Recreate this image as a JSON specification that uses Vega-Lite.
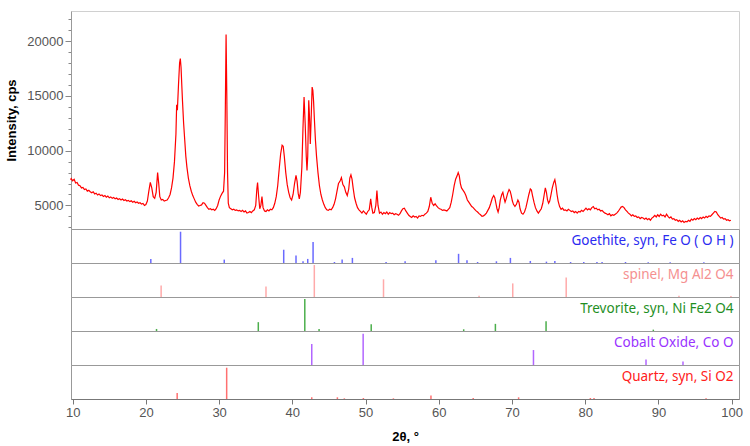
{
"$schema": "https://vega.github.io/schema/vega-lite/v6.json",
"padding": {"left": 5, "top": 10, "right": 5, "bottom": 0},
"bounds": "flush",
"spacing": 0,
"config": {"font": "Liberation Sans", "axis": {"grid": false}},
"datasets": {
"pattern": [
{"t":9.7,"c":7350},{"t":9.8,"c":7450},{"t":10.0,"c":7250},{"t":10.2,"c":7380},{"t":10.4,"c":7050},{"t":10.6,"c":7100},{"t":10.8,"c":6850},{"t":11.0,"c":6800},{"t":11.2,"c":6600},{"t":11.4,"c":6650},{"t":11.6,"c":6450},{"t":11.8,"c":6500},{"t":12.0,"c":6300},{"t":12.2,"c":6380},{"t":12.4,"c":6250},{"t":12.6,"c":6150},{"t":12.8,"c":6250},{"t":13.0,"c":6050},{"t":13.2,"c":6120},{"t":13.4,"c":5950},{"t":13.6,"c":6050},{"t":13.8,"c":5900},{"t":14.0,"c":5950},{"t":14.2,"c":5820},{"t":14.4,"c":5900},{"t":14.6,"c":5750},{"t":14.8,"c":5850},{"t":15.0,"c":5700},{"t":15.2,"c":5780},{"t":15.4,"c":5650},{"t":15.6,"c":5720},{"t":15.8,"c":5600},{"t":16.0,"c":5680},{"t":16.2,"c":5550},{"t":16.4,"c":5620},{"t":16.6,"c":5500},{"t":16.8,"c":5580},{"t":17.0,"c":5450},{"t":17.2,"c":5520},{"t":17.4,"c":5400},{"t":17.6,"c":5460},{"t":17.8,"c":5350},{"t":18.0,"c":5420},{"t":18.2,"c":5300},{"t":18.4,"c":5380},{"t":18.6,"c":5250},{"t":18.8,"c":5320},{"t":19.0,"c":5200},{"t":19.2,"c":5250},{"t":19.4,"c":5120},{"t":19.6,"c":5180},{"t":19.8,"c":5000},{"t":20.0,"c":5080},
{"t":20.2,"c":5400},{"t":20.4,"c":6300},{"t":20.6,"c":7100},{"t":20.8,"c":6600},{"t":21.0,"c":5800},{"t":21.2,"c":5650},{"t":21.4,"c":6200},{"t":21.6,"c":8000},{"t":21.75,"c":7000},{"t":21.9,"c":5800},{"t":22.1,"c":5500},{"t":22.3,"c":5550},{"t":22.5,"c":5400},{"t":22.7,"c":5450},{"t":22.9,"c":5500},{"t":23.1,"c":5700},{"t":23.3,"c":6000},{"t":23.5,"c":6600},{"t":23.7,"c":7500},{"t":23.9,"c":9000},{"t":24.1,"c":11500},{"t":24.2,"c":14200},{"t":24.3,"c":13700},{"t":24.45,"c":16000},{"t":24.6,"c":18000},{"t":24.7,"c":18400},{"t":24.8,"c":17600},{"t":24.9,"c":16000},{"t":25.0,"c":14500},{"t":25.15,"c":12500},{"t":25.3,"c":11000},{"t":25.45,"c":9500},{"t":25.6,"c":8500},{"t":25.8,"c":7500},{"t":26.0,"c":6800},{"t":26.2,"c":6300},{"t":26.4,"c":5900},{"t":26.6,"c":5600},{"t":26.8,"c":5300},{"t":27.0,"c":5100},{"t":27.2,"c":4950},{"t":27.4,"c":5000},{"t":27.6,"c":5050},{"t":27.8,"c":5250},{"t":28.0,"c":5200},{"t":28.2,"c":5000},{"t":28.4,"c":4800},{"t":28.6,"c":4650},{"t":28.8,"c":4700},{"t":29.0,"c":4600},{"t":29.2,"c":4650},{"t":29.4,"c":4550},{"t":29.6,"c":4700},{"t":29.8,"c":5000},{"t":30.0,"c":5500},{"t":30.2,"c":5850},{"t":30.4,"c":6100},{"t":30.6,"c":6300},{"t":30.75,"c":8000},{"t":30.85,"c":14000},{"t":30.95,"c":20600},{"t":31.05,"c":15000},{"t":31.15,"c":8000},{"t":31.25,"c":5200},{"t":31.4,"c":4800},{"t":31.6,"c":4700},{"t":31.8,"c":4600},{"t":32.0,"c":4650},{"t":32.2,"c":4550},{"t":32.4,"c":4600},{"t":32.6,"c":4500},{"t":32.8,"c":4550},{"t":33.0,"c":4450},{"t":33.2,"c":4550},{"t":33.4,"c":4400},{"t":33.6,"c":4500},{"t":33.8,"c":4300},{"t":34.0,"c":4350},{"t":34.2,"c":4450},{"t":34.4,"c":4350},{"t":34.6,"c":4500},{"t":34.8,"c":4600},{"t":35.0,"c":5000},{"t":35.15,"c":6500},{"t":35.25,"c":7100},{"t":35.4,"c":5800},{"t":35.55,"c":4700},{"t":35.7,"c":5000},{"t":35.85,"c":5800},{"t":36.0,"c":4800},{"t":36.2,"c":4500},{"t":36.4,"c":4450},{"t":36.6,"c":4600},{"t":36.8,"c":4500},{"t":37.0,"c":4650},{"t":37.2,"c":4600},{"t":37.4,"c":4800},{"t":37.6,"c":5200},{"t":37.8,"c":5800},{"t":38.0,"c":6800},{"t":38.2,"c":8300},{"t":38.4,"c":9700},{"t":38.6,"c":10500},{"t":38.75,"c":10400},{"t":38.9,"c":9500},{"t":39.1,"c":8000},{"t":39.3,"c":6900},{"t":39.5,"c":6200},{"t":39.7,"c":5700},{"t":39.9,"c":5500},{"t":40.1,"c":6000},{"t":40.3,"c":7000},{"t":40.5,"c":7750},{"t":40.65,"c":7200},{"t":40.8,"c":6100},{"t":40.95,"c":5600},{"t":41.1,"c":6200},{"t":41.3,"c":8500},{"t":41.45,"c":12000},{"t":41.6,"c":14900},{"t":41.75,"c":12500},{"t":41.9,"c":9500},{"t":42.0,"c":8200},{"t":42.1,"c":9500},{"t":42.24,"c":14600},{"t":42.35,"c":13000},{"t":42.45,"c":10600},{"t":42.55,"c":12500},{"t":42.7,"c":15800},{"t":42.8,"c":15500},{"t":42.9,"c":14500},{"t":43.0,"c":13000},{"t":43.15,"c":11000},{"t":43.3,"c":9500},{"t":43.5,"c":8000},{"t":43.7,"c":6800},{"t":43.9,"c":6000},{"t":44.1,"c":5500},{"t":44.3,"c":5100},{"t":44.5,"c":4800},{"t":44.7,"c":4600},{"t":44.9,"c":4550},{"t":45.1,"c":4650},{"t":45.3,"c":4600},{"t":45.5,"c":4800},{"t":45.7,"c":5100},{"t":45.9,"c":5600},{"t":46.1,"c":6300},{"t":46.3,"c":7000},{"t":46.5,"c":7200},{"t":46.7,"c":7550},{"t":46.9,"c":6900},{"t":47.1,"c":6700},{"t":47.3,"c":6200},{"t":47.5,"c":5900},{"t":47.7,"c":6500},{"t":47.85,"c":7500},{"t":48.0,"c":7800},{"t":48.15,"c":7400},{"t":48.3,"c":6600},{"t":48.5,"c":5700},{"t":48.7,"c":5200},{"t":48.9,"c":4800},{"t":49.1,"c":4600},{"t":49.3,"c":4450},{"t":49.5,"c":4300},{"t":49.7,"c":4500},{"t":49.9,"c":4350},{"t":50.1,"c":4200},{"t":50.3,"c":4450},{"t":50.5,"c":4600},{"t":50.7,"c":5600},{"t":50.85,"c":4800},{"t":51.0,"c":4300},{"t":51.2,"c":4350},{"t":51.4,"c":5000},{"t":51.55,"c":6350},{"t":51.7,"c":5000},{"t":51.9,"c":4300},{"t":52.1,"c":4400},{"t":52.3,"c":4200},{"t":52.5,"c":4350},{"t":52.7,"c":4250},{"t":52.9,"c":4400},{"t":53.1,"c":4200},{"t":53.3,"c":4350},{"t":53.5,"c":4250},{"t":53.7,"c":4300},{"t":53.9,"c":4150},{"t":54.1,"c":4250},{"t":54.3,"c":4200},{"t":54.5,"c":4100},{"t":54.7,"c":4250},{"t":54.9,"c":4500},{"t":55.1,"c":4700},{"t":55.3,"c":4750},{"t":55.5,"c":4500},{"t":55.7,"c":4300},{"t":55.9,"c":4100},{"t":56.1,"c":4000},{"t":56.3,"c":3900},{"t":56.5,"c":4050},{"t":56.7,"c":3950},{"t":56.9,"c":4000},{"t":57.1,"c":3850},{"t":57.3,"c":4050},{"t":57.5,"c":4000},{"t":57.7,"c":4100},{"t":57.9,"c":4050},{"t":58.1,"c":4200},{"t":58.3,"c":4300},{"t":58.5,"c":4450},{"t":58.7,"c":4900},{"t":58.9,"c":5750},{"t":59.1,"c":5200},{"t":59.3,"c":5000},{"t":59.5,"c":5150},{"t":59.7,"c":4950},{"t":59.9,"c":4800},{"t":60.1,"c":4700},{"t":60.3,"c":4650},{"t":60.5,"c":4550},{"t":60.7,"c":4600},{"t":60.9,"c":4550},{"t":61.1,"c":4500},{"t":61.3,"c":4650},{"t":61.5,"c":4800},{"t":61.7,"c":5300},{"t":61.9,"c":6000},{"t":62.1,"c":6800},{"t":62.3,"c":7400},{"t":62.5,"c":7700},{"t":62.65,"c":8000},{"t":62.8,"c":7700},{"t":62.95,"c":7000},{"t":63.1,"c":6600},{"t":63.3,"c":6400},{"t":63.5,"c":6200},{"t":63.7,"c":5900},{"t":63.9,"c":5500},{"t":64.1,"c":5300},{"t":64.3,"c":5100},{"t":64.5,"c":4900},{"t":64.7,"c":4800},{"t":64.9,"c":4650},{"t":65.1,"c":4500},{"t":65.3,"c":4400},{"t":65.5,"c":4250},{"t":65.7,"c":4150},{"t":65.9,"c":4000},{"t":66.1,"c":4050},{"t":66.3,"c":4150},{"t":66.5,"c":4300},{"t":66.7,"c":4550},{"t":66.9,"c":4800},{"t":67.1,"c":5200},{"t":67.3,"c":5650},{"t":67.5,"c":5900},{"t":67.65,"c":5700},{"t":67.8,"c":5200},{"t":67.95,"c":4700},{"t":68.1,"c":4400},{"t":68.25,"c":4800},{"t":68.4,"c":5500},{"t":68.6,"c":6000},{"t":68.75,"c":6200},{"t":68.9,"c":5700},{"t":69.05,"c":5300},{"t":69.2,"c":5600},{"t":69.4,"c":6100},{"t":69.6,"c":6450},{"t":69.75,"c":6300},{"t":69.9,"c":5900},{"t":70.05,"c":5400},{"t":70.2,"c":5100},{"t":70.4,"c":4900},{"t":70.6,"c":5100},{"t":70.8,"c":5500},{"t":70.95,"c":5300},{"t":71.1,"c":4700},{"t":71.3,"c":4300},{"t":71.5,"c":4200},{"t":71.7,"c":4400},{"t":71.9,"c":4800},{"t":72.1,"c":5400},{"t":72.3,"c":6000},{"t":72.5,"c":6500},{"t":72.65,"c":6400},{"t":72.8,"c":5900},{"t":73.0,"c":5300},{"t":73.2,"c":4800},{"t":73.4,"c":4500},{"t":73.6,"c":4300},{"t":73.8,"c":4500},{"t":74.0,"c":4700},{"t":74.2,"c":5200},{"t":74.4,"c":6000},{"t":74.55,"c":6600},{"t":74.7,"c":6200},{"t":74.85,"c":5500},{"t":75.0,"c":5200},{"t":75.15,"c":5400},{"t":75.3,"c":5900},{"t":75.5,"c":6600},{"t":75.7,"c":7100},{"t":75.85,"c":7350},{"t":76.0,"c":6800},{"t":76.15,"c":6000},{"t":76.3,"c":5400},{"t":76.5,"c":4900},{"t":76.7,"c":4650},{"t":76.9,"c":4750},{"t":77.1,"c":4550},{"t":77.3,"c":4600},{"t":77.5,"c":4500},{"t":77.7,"c":4650},{"t":77.9,"c":4550},{"t":78.1,"c":4450},{"t":78.3,"c":4500},{"t":78.5,"c":4350},{"t":78.7,"c":4450},{"t":78.9,"c":4300},{"t":79.1,"c":4450},{"t":79.3,"c":4400},{"t":79.5,"c":4550},{"t":79.7,"c":4450},{"t":79.9,"c":4600},{"t":80.1,"c":4750},{"t":80.3,"c":4600},{"t":80.5,"c":4700},{"t":80.7,"c":4600},{"t":80.9,"c":4800},{"t":81.1,"c":4900},{"t":81.3,"c":4700},{"t":81.5,"c":4750},{"t":81.7,"c":4600},{"t":81.9,"c":4650},{"t":82.1,"c":4500},{"t":82.3,"c":4550},{"t":82.5,"c":4400},{"t":82.7,"c":4300},{"t":82.9,"c":4250},{"t":83.1,"c":4150},{"t":83.3,"c":4250},{"t":83.5,"c":4050},{"t":83.7,"c":4150},{"t":83.9,"c":4100},
{"t":84.1,"c":4200},{"t":84.3,"c":4300},{"t":84.5,"c":4450},{"t":84.7,"c":4650},{"t":84.9,"c":4850},{"t":85.1,"c":4900},{"t":85.3,"c":4800},{"t":85.5,"c":4600},{"t":85.7,"c":4450},{"t":85.9,"c":4300},{"t":86.1,"c":4200},{"t":86.3,"c":4050},{"t":86.5,"c":4150},{"t":86.7,"c":4000},{"t":86.9,"c":4050},{"t":87.1,"c":3900},{"t":87.3,"c":3950},{"t":87.5,"c":3800},{"t":87.7,"c":3900},{"t":87.9,"c":3850},{"t":88.1,"c":3750},{"t":88.3,"c":3850},{"t":88.5,"c":3700},{"t":88.7,"c":3800},{"t":88.9,"c":3650},{"t":89.1,"c":3850},{"t":89.3,"c":3950},{"t":89.5,"c":4100},{"t":89.7,"c":3950},{"t":89.9,"c":4150},{"t":90.1,"c":4000},{"t":90.3,"c":4200},{"t":90.5,"c":4050},{"t":90.7,"c":4100},{"t":90.9,"c":3950},{"t":91.1,"c":4200},{"t":91.3,"c":4000},{"t":91.5,"c":3850},{"t":91.7,"c":3950},{"t":91.9,"c":3750},{"t":92.1,"c":3800},{"t":92.3,"c":3650},{"t":92.5,"c":3700},{"t":92.7,"c":3550},{"t":92.9,"c":3650},{"t":93.1,"c":3500},{"t":93.3,"c":3600},{"t":93.5,"c":3450},{"t":93.7,"c":3550},{"t":93.9,"c":3500},{"t":94.1,"c":3650},{"t":94.3,"c":3550},{"t":94.5,"c":3750},{"t":94.7,"c":3650},{"t":94.9,"c":3800},{"t":95.1,"c":3700},{"t":95.3,"c":3850},{"t":95.5,"c":3750},{"t":95.7,"c":3900},{"t":95.9,"c":3800},{"t":96.1,"c":3950},{"t":96.3,"c":3850},{"t":96.5,"c":4000},{"t":96.7,"c":3900},{"t":96.9,"c":4050},{"t":97.1,"c":4000},{"t":97.3,"c":4150},{"t":97.5,"c":4300},{"t":97.7,"c":4450},{"t":97.9,"c":4400},{"t":98.1,"c":4150},{"t":98.3,"c":4000},{"t":98.5,"c":3850},{"t":98.7,"c":3900},{"t":98.9,"c":3750},{"t":99.1,"c":3800},{"t":99.3,"c":3650},{"t":99.5,"c":3700},{"t":99.7,"c":3600},{"t":99.9,"c":3650}
],
"sticks": [
{"p":"G","t":20.67,"h":12},{"p":"G","t":24.73,"h":92},{"p":"G","t":30.7,"h":10},{"p":"G","t":38.82,"h":39},{"p":"G","t":40.5,"h":22},{"p":"G","t":41.46,"h":5},{"p":"G","t":42.1,"h":12},{"p":"G","t":42.83,"h":62},{"p":"G","t":45.75,"h":3},{"p":"G","t":46.8,"h":10},{"p":"G","t":48.2,"h":15},{"p":"G","t":52.8,"h":3},{"p":"G","t":55.4,"h":5},{"p":"G","t":59.6,"h":8},{"p":"G","t":62.7,"h":27},{"p":"G","t":63.85,"h":8},{"p":"G","t":65.3,"h":3},{"p":"G","t":67.87,"h":5},{"p":"G","t":69.78,"h":15},{"p":"G","t":72.5,"h":6},{"p":"G","t":74.7,"h":4},{"p":"G","t":75.85,"h":6},{"p":"G","t":78.0,"h":3},{"p":"G","t":79.8,"h":3},{"p":"G","t":81.6,"h":3},{"p":"G","t":82.3,"h":3},{"p":"G","t":85.5,"h":3},{"p":"G","t":88.6,"h":2},{"p":"G","t":91.6,"h":2},{"p":"G","t":96.2,"h":2},
{"p":"S","t":22.08,"h":34},{"p":"S","t":36.4,"h":31},{"p":"S","t":43.0,"h":94},{"p":"S","t":52.45,"h":52},{"p":"S","t":65.5,"h":4},{"p":"S","t":70.1,"h":40},{"p":"S","t":77.4,"h":57},{"p":"S","t":92.8,"h":4},{"p":"S","t":99.9,"h":3},
{"p":"T","t":21.45,"h":6},{"p":"T","t":35.35,"h":26},{"p":"T","t":41.7,"h":94},{"p":"T","t":43.65,"h":6},{"p":"T","t":50.77,"h":20},{"p":"T","t":63.4,"h":5},{"p":"T","t":67.73,"h":21},{"p":"T","t":74.65,"h":29},{"p":"T","t":89.3,"h":4},
{"p":"C","t":42.65,"h":62},{"p":"C","t":49.67,"h":92},{"p":"C","t":72.93,"h":44},{"p":"C","t":88.3,"h":16},{"p":"C","t":93.35,"h":10},
{"p":"Q","t":24.27,"h":18},{"p":"Q","t":31.03,"h":92},{"p":"Q","t":42.65,"h":5},{"p":"Q","t":46.15,"h":5},{"p":"Q","t":47.1,"h":2},{"p":"Q","t":49.7,"h":3},{"p":"Q","t":53.8,"h":2},{"p":"Q","t":58.93,"h":10},{"p":"Q","t":64.7,"h":3},{"p":"Q","t":70.9,"h":5},{"p":"Q","t":80.7,"h":3},{"p":"Q","t":81.2,"h":3},{"p":"Q","t":96.5,"h":2}
]
},
"vconcat": [
{
"width": 668, "height": 218,
"view": {"stroke": "#d0d0d0"},
"data": {"name": "pattern"},
"mark": {"type": "line", "color": "#ff0000", "strokeWidth": 1.2},
"encoding": {
"x": {"field": "t", "type": "quantitative", "scale": {"domain": [9.77, 101], "nice": false}, "axis": null},
"y": {"field": "c", "type": "quantitative", "scale": {"domain": [2850, 22750], "nice": false, "zero": false},
"axis": {"values": [3000,4000,5000,6000,7000,8000,9000,10000,11000,12000,13000,14000,15000,16000,17000,18000,19000,20000,21000,22000],
"labelExpr": "datum.value % 5000 === 0 ? datum.label : ''", "format": "d",
"title": "Intensity, cps", "titleFontWeight": "bold", "titleFontSize": 13, "titleColor": "#000", "titlePadding": 8,
"labelFontSize": 13, "labelColor": "#555", "labelPadding": 2, "labelOverlap": false,
"tickSize": {"condition": {"test": "datum.value % 5000 === 0", "value": 6}, "value": 3},
"tickColor": "#888", "domainColor": "#999"}}
}
},
{
"width": 668, "height": 34, "view": {"stroke": "#999"},
"layer": [
{"data": {"name": "sticks"}, "transform": [{"filter": "datum.p === 'G'"}],
"mark": {"type": "rule", "color": "#6a6aff", "strokeWidth": 1.5},
"encoding": {"x": {"field": "t", "type": "quantitative", "scale": {"domain": [9.77, 101], "nice": false}, "axis": null},
"y": {"field": "h", "type": "quantitative", "scale": {"domain": [0, 100], "nice": false}, "axis": null}, "y2": {"datum": 0}}},
{"data": {"values": [{"label": "Goethite, syn, Fe O ( O H )"}]},
"mark": {"type": "text", "align": "right", "baseline": "middle", "font": "Noto Sans", "fontSize": 13.5, "color": "#2b2bf0"},
"encoding": {"x": {"datum": 100.25, "type": "quantitative"}, "y": {"datum": 65, "type": "quantitative"}, "text": {"field": "label"}}}
]
},
{
"width": 668, "height": 34, "view": {"stroke": "#999"},
"layer": [
{"data": {"name": "sticks"}, "transform": [{"filter": "datum.p === 'S'"}],
"mark": {"type": "rule", "color": "#ffaaaa", "strokeWidth": 1.5},
"encoding": {"x": {"field": "t", "type": "quantitative", "scale": {"domain": [9.77, 101], "nice": false}, "axis": null},
"y": {"field": "h", "type": "quantitative", "scale": {"domain": [0, 100], "nice": false}, "axis": null}, "y2": {"datum": 0}}},
{"data": {"values": [{"label": "spinel, Mg Al2 O4"}]},
"mark": {"type": "text", "align": "right", "baseline": "middle", "font": "Noto Sans", "fontSize": 13.5, "color": "#f59090"},
"encoding": {"x": {"datum": 100.25, "type": "quantitative"}, "y": {"datum": 65, "type": "quantitative"}, "text": {"field": "label"}}}
]
},
{
"width": 668, "height": 34, "view": {"stroke": "#999"},
"layer": [
{"data": {"name": "sticks"}, "transform": [{"filter": "datum.p === 'T'"}],
"mark": {"type": "rule", "color": "#4caf4c", "strokeWidth": 1.5},
"encoding": {"x": {"field": "t", "type": "quantitative", "scale": {"domain": [9.77, 101], "nice": false}, "axis": null},
"y": {"field": "h", "type": "quantitative", "scale": {"domain": [0, 100], "nice": false}, "axis": null}, "y2": {"datum": 0}}},
{"data": {"values": [{"label": "Trevorite, syn, Ni Fe2 O4"}]},
"mark": {"type": "text", "align": "right", "baseline": "middle", "font": "Noto Sans", "fontSize": 13.5, "color": "#1f8f1f"},
"encoding": {"x": {"datum": 100.25, "type": "quantitative"}, "y": {"datum": 65, "type": "quantitative"}, "text": {"field": "label"}}}
]
},
{
"width": 668, "height": 34, "view": {"stroke": "#999"},
"layer": [
{"data": {"name": "sticks"}, "transform": [{"filter": "datum.p === 'C'"}],
"mark": {"type": "rule", "color": "#b266ff", "strokeWidth": 1.5},
"encoding": {"x": {"field": "t", "type": "quantitative", "scale": {"domain": [9.77, 101], "nice": false}, "axis": null},
"y": {"field": "h", "type": "quantitative", "scale": {"domain": [0, 100], "nice": false}, "axis": null}, "y2": {"datum": 0}}},
{"data": {"values": [{"label": "Cobalt Oxide, Co O"}]},
"mark": {"type": "text", "align": "right", "baseline": "middle", "font": "Noto Sans", "fontSize": 13.5, "color": "#9933ff"},
"encoding": {"x": {"datum": 100.25, "type": "quantitative"}, "y": {"datum": 65, "type": "quantitative"}, "text": {"field": "label"}}}
]
},
{
"width": 668, "height": 34, "view": {"stroke": "#999"},
"layer": [
{"data": {"name": "sticks"}, "transform": [{"filter": "datum.p === 'Q'"}],
"mark": {"type": "rule", "color": "#ff7070", "strokeWidth": 1.5},
"encoding": {"x": {"field": "t", "type": "quantitative", "scale": {"domain": [9.77, 101], "nice": false},
"axis": {"values": [10,15,20,25,30,35,40,45,50,55,60,65,70,75,80,85,90,95,100],
"labelExpr": "datum.value % 10 === 0 ? datum.label : ''",
"title": "2θ, °", "titleFontWeight": "bold", "titleFontSize": 13, "titleColor": "#000", "titlePadding": 11,
"labelFontSize": 13, "labelColor": "#555", "labelPadding": 2, "labelOverlap": false, "labelFlush": false,
"tickSize": 5, "tickColor": {"condition": {"test": "datum.value % 10 === 0", "value": "#777"}, "value": "#b0b0b0"},
"domainColor": "#777"}},
"y": {"field": "h", "type": "quantitative", "scale": {"domain": [0, 100], "nice": false}, "axis": null}, "y2": {"datum": 0}}},
{"data": {"values": [{"label": "Quartz, syn, Si O2"}]},
"mark": {"type": "text", "align": "right", "baseline": "middle", "font": "Noto Sans", "fontSize": 13.5, "color": "#ff2020"},
"encoding": {"x": {"datum": 100.25, "type": "quantitative"}, "y": {"datum": 65, "type": "quantitative"}, "text": {"field": "label"}}}
]
}
]
}
